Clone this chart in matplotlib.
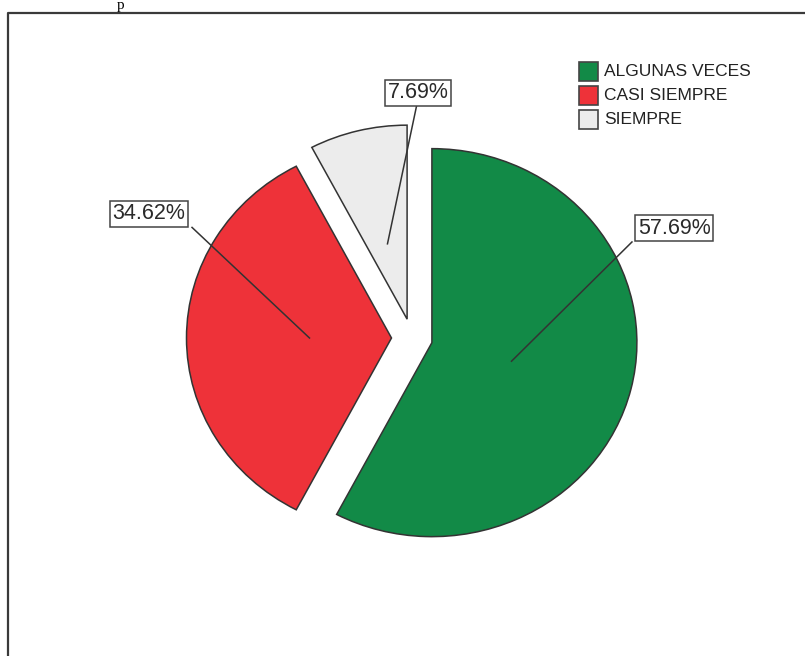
import numpy as np
import matplotlib
matplotlib.use('Agg')
import matplotlib.pyplot as plt
from matplotlib.lines import Line2D
from matplotlib.patches import Rectangle

categories = ["ALGUNAS VECES", "CASI SIEMPRE", "SIEMPRE"]
counts = [15, 9, 2]
colors = ["#128a47", "#ee3239", "#ececec"]

# where each percentage box sits (pie data units) and the box corner the leader runs to
label_pos = [(1.28, 0.565), (-1.285, 0.64), (0.03, 1.265)]
leader_end = [(1.073, 0.495), (-1.073, 0.57), (0.024, 1.205)]

W, H = 805, 656
fig = plt.figure(figsize=(W / 100, H / 100), dpi=100)
fig.patch.set_facecolor("white")

# pie axes: radius 1 is ~205 px wide and ~194 px tall, centred at (412, 338) px
rx, ry = 205, 194
cx, cy = 412, 338
aw, ah = 2.6 * rx, 2.6 * ry
ax = fig.add_axes([(cx - aw / 2) / W, (H - cy - ah / 2) / H, aw / W, ah / H])

total = sum(counts)
pct = [c / total * 100 for c in counts]
wedges, _ = ax.pie(counts, colors=colors, startangle=90, counterclock=False,
                   explode=[0.1] * len(counts), radius=1,
                   wedgeprops=dict(edgecolor="#333333", linewidth=1.1))
ax.set_aspect("auto")
ax.set_xlim(-1.3, 1.3)
ax.set_ylim(-1.3, 1.3)
ax.axis("off")

for w, p, pos, end in zip(wedges, pct, label_pos, leader_end):
    mid = np.deg2rad((w.theta1 + w.theta2) / 2)
    x0 = w.center[0] + 0.4 * np.cos(mid)
    y0 = w.center[1] + 0.4 * np.sin(mid)
    ax.plot([x0, end[0]], [y0, end[1]], color="#333333", lw=1.1, zorder=5)
    ax.text(pos[0], pos[1], f"{p:.2f}%", ha="center", va="center",
            fontsize=15.5, family="Liberation Sans", color="#2a2a2a", zorder=6,
            bbox=dict(boxstyle="square,pad=0.12", fc="white", ec="#444444", lw=1.1))

# legend
for i, (cat, col) in enumerate(zip(categories, colors)):
    ytop = 62 + i * 24
    fig.patches.append(Rectangle((579 / W, 1 - (ytop + 19) / H), 19 / W, 19 / H,
                                 transform=fig.transFigure, fc=col, ec="#444444", lw=1.2))
    fig.text(604 / W, 1 - (ytop + 10) / H, cat, ha="left", va="center",
             fontsize=12.5, family="Liberation Sans", color="#222222")

# outer frame (left and top edges)
fig.lines.append(Line2D([8 / W, 8 / W, 1.0], [0.0, 1 - 13 / H, 1 - 13 / H],
                        transform=fig.transFigure, color="#3a3a3a", lw=1.6))

fig.text(117 / W, 1 - 9 / H, "p", ha="left", va="baseline",
         fontsize=11, family="Liberation Serif", color="black")

fig.savefig("out.png", dpi=100)
plt.close(fig)
